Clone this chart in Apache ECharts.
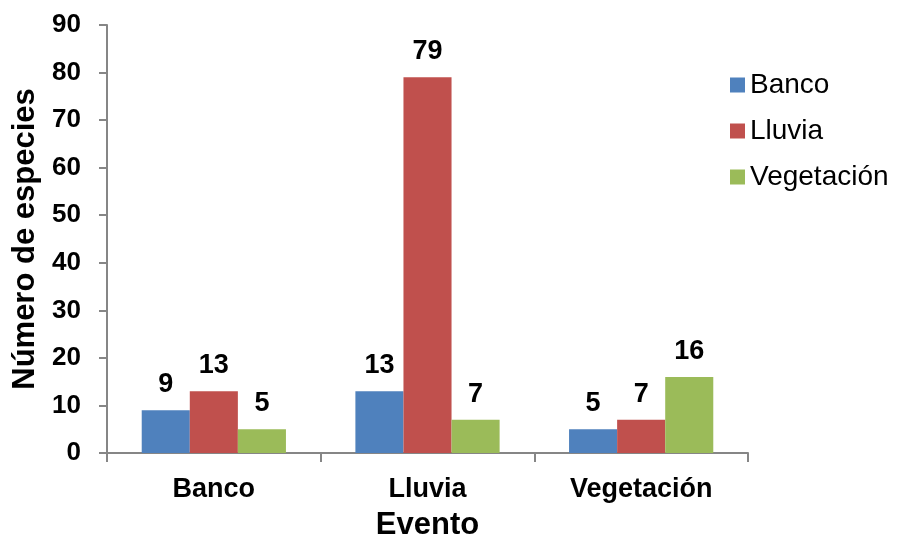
<!DOCTYPE html>
<html>
<head>
<meta charset="utf-8">
<script src="https://cdn.jsdelivr.net/npm/echarts@6/dist/echarts.min.js"></script>
<style>
  html, body { margin: 0; padding: 0; background: #fff; }
  #chart { width: 898px; height: 540px; }
</style>
</head>
<body>
<div id="chart"></div>
<script>
// Species counts per event, grouped by sampling source
const categories = ['Banco', 'Lluvia', 'Vegetación'];
const seriesNames = ['Banco', 'Lluvia', 'Vegetación'];
const bancoValues = [9, 13, 5];
const lluviaValues = [13, 79, 7];
const vegetacionValues = [5, 7, 16];
const yTicks = [0, 10, 20, 30, 40, 50, 60, 70, 80, 90];

const colors = ['#4F81BD', '#C0504D', '#9BBB59'];
const font = 'Liberation Sans, Arial, sans-serif';
const axisGray = '#868686';

const chart = echarts.init(document.getElementById('chart'));

function makeSeries(name, values, color) {
  return {
    name: name,
    type: 'bar',
    data: values,
    barGap: '0%',
    barCategoryGap: '32.5%',
    itemStyle: { color: color },
    label: {
      show: true,
      position: 'top',
      distance: 12,
      fontFamily: font,
      fontWeight: 'bold',
      fontSize: 27,
      color: '#000'
    }
  };
}

chart.setOption({
  animation: false,
  grid: {
    left: 107, right: 150, top: 25, bottom: 87,
    containLabel: false,
    outerBoundsMode: 'none'
  },
  legend: {
    orient: 'vertical',
    left: 725,
    top: 66,
    itemWidth: 15,
    itemHeight: 15,
    itemGap: 18,
    icon: 'rect',
    textStyle: { fontFamily: font, fontSize: 28, color: '#000' },
    data: seriesNames
  },
  xAxis: {
    type: 'category',
    data: categories,
    name: 'Evento',
    nameLocation: 'middle',
    nameGap: 57,
    nameTextStyle: { fontFamily: font, fontWeight: 'bold', fontSize: 31, color: '#000' },
    axisLine: { lineStyle: { color: axisGray, width: 2 } },
    axisTick: { show: true, length: 9, alignWithLabel: false, lineStyle: { color: axisGray, width: 2 } },
    axisLabel: { fontFamily: font, fontWeight: 'bold', fontSize: 27, color: '#000', margin: 23 }
  },
  yAxis: {
    type: 'value',
    min: yTicks[0],
    max: yTicks[yTicks.length - 1],
    interval: yTicks[1] - yTicks[0],
    name: 'Número de especies',
    nameLocation: 'middle',
    nameGap: 63,
    nameRotate: 90,
    nameTextStyle: { fontFamily: font, fontWeight: 'bold', fontSize: 31, color: '#000' },
    axisLine: { show: true, lineStyle: { color: axisGray, width: 2 } },
    axisTick: { show: true, length: 8, lineStyle: { color: axisGray, width: 2 } },
    splitLine: { show: false },
    axisLabel: { fontFamily: font, fontWeight: 'bold', fontSize: 26, color: '#000', margin: 26 }
  },
  series: [
    makeSeries(seriesNames[0], bancoValues, colors[0]),
    makeSeries(seriesNames[1], lluviaValues, colors[1]),
    makeSeries(seriesNames[2], vegetacionValues, colors[2])
  ]
});
</script>
</body>
</html>
